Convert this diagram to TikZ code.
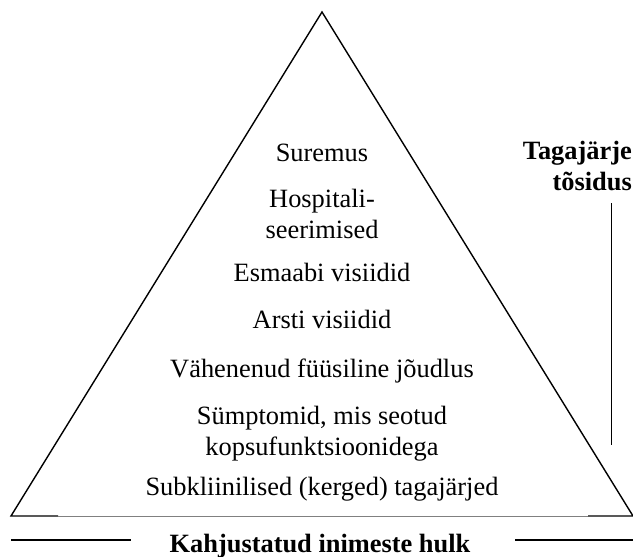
\documentclass[tikz,border=0pt]{standalone}
\usepackage{fontspec}
\setmainfont{Liberation Serif}
\usepackage{tikz}

\tikzset{
  lvl/.style={anchor=base, align=center, inner sep=0pt, font=\fontsize{26.4}{31}\selectfont},
  ttl/.style={lvl, font=\fontsize{26.4}{31}\selectfont\bfseries}
}

\begin{document}
\begin{tikzpicture}[x=1pt, y=-1pt]
\useasboundingbox (0,0) rectangle (633,557);

\coordinate (top) at (322,12);
\coordinate (bl) at (11,516);
\coordinate (br) at (633,516);
\coordinate (bl2) at (58,516);
\coordinate (br2) at (588,516);

\draw[line width=1.4] (bl2) -- (bl) -- (top) -- (br) -- (br2);
\draw[line width=0.6, gray] (bl2) -- (br2);

\node[lvl] (suremus) at (322,161) {Suremus};
\node[lvl] (hosp) at (322,238) {Hospitali-\\seerimised};
\node[lvl] (esmaabi) at (322,281) {Esmaabi visiidid};
\node[lvl] (arsti) at (322,328) {Arsti visiidid};
\node[lvl] (vahen) at (322,377) {Vähenenud füüsiline jõudlus};
\node[lvl] (sympt) at (322,455) {Sümptomid, mis seotud\\kopsufunktsioonidega};
\node[lvl] (subkl) at (322,495) {Subkliinilised (kerged) tagajärjed};

\node[ttl, align=right, anchor=base east] (tosidus) at (632,190) {Tagajärje\\tõsidus};
\coordinate (vt) at (611,203);
\coordinate (vb) at (611,445);
\draw[line width=1] (vt) -- (vb);

\node[ttl] (hulk) at (320,552) {Kahjustatud inimeste hulk};
\coordinate (hl1) at (11,540);
\coordinate (hl2) at (131,540);
\coordinate (hr1) at (515,540);
\coordinate (hr2) at (633,540);
\draw[line width=1.2] (hl1) -- (hl2);
\draw[line width=1.2] (hr1) -- (hr2);

\end{tikzpicture}
\end{document}
